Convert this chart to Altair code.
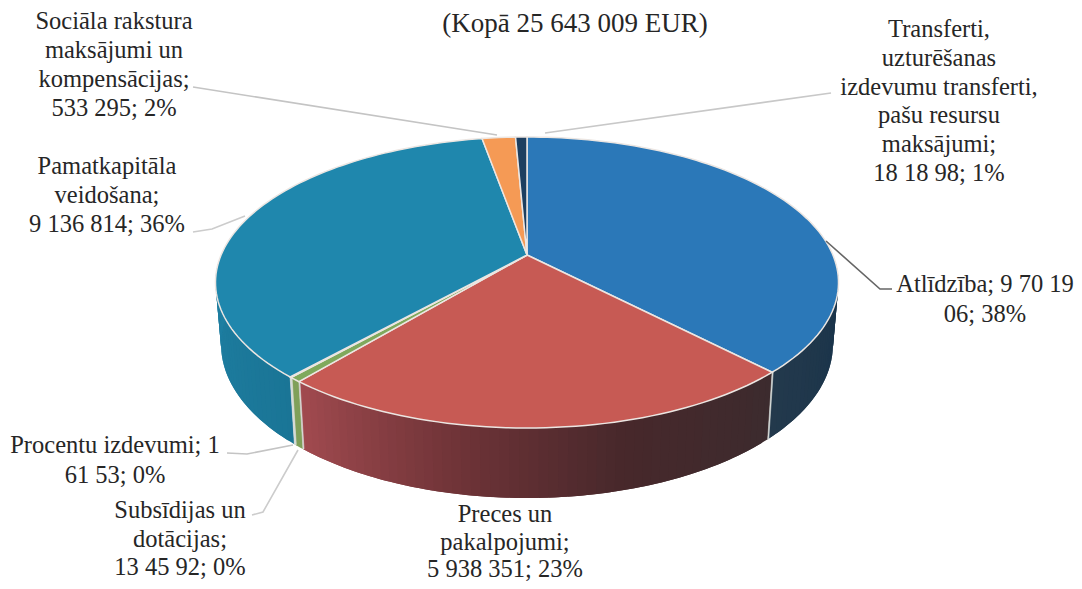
import math
import altair as alt

# ---- chart values
CATEGORIES = ["Atlīdzība", "Preces un pakalpojumi", "Subsīdijas un dotācijas", "Procentu izdevumi",
              "Pamatkapitāla veidošana", "Sociāla rakstura maksājumi un kompensācijas",
              "Transferti, uzturēšanas izdevumu transferti, pašu resursu maksājumi"]
VALUES = [9701906, 5938351, 134592, 16153, 9136814, 533295, 181898]
TOP_COLORS = ["#2b78b8", "#c75a54", "#7fa95c", "#9fc7c0", "#1f87ad", "#f59a55", "#1d3f60"]
SIDE_STOPS = [
    [(90, "#16324a"), (136, "#23394c")],
    [(136, "#3c2b2e"), (165, "#47282b"), (190, "#6e3337"), (220, "#a34b50")],
    [(0, "#7fa05a"), (360, "#7fa05a")],
    [(0, "#a8c8b8"), (360, "#a8c8b8")],
    [(221, "#1a7596"), (270, "#1f80a3")],
    [(0, "#f59a55"), (360, "#f59a55")],
    [(0, "#1d3f60"), (360, "#1d3f60")],
]
TITLE_LINES = ["(Kopā 25 643 009 EUR)"]
LABEL_LINES = [
    ["Sociāla rakstura", "maksājumi  un", "kompensācijas;", "533 295; 2%"],
    ["Pamatkapitāla", "veidošana;", "9 136 814; 36%"],
    ["Transferti,", "uzturēšanas", "izdevumu transferti,", "pašu resursu", "maksājumi;", "18 18 98; 1%"],
    ["Atlīdzība; 9 70 19", "06; 38%"],
    ["Procentu izdevumi; 1", "61 53; 0%"],
    ["Subsīdijas un", "dotācijas;", "13 45 92; 0%"],
    ["Preces un", "pakalpojumi;", "5 938 351; 23%"],
]

# ---- layout (page pixels)
LABEL_ANCHORS = [(114, 29, 29), (107, 174, 29), (939, 37, 28.8), (985, 292, 30), (115, 453, 30), (180, 518, 28.5), (505, 522, 27.5)]
TITLE_ANCHOR = (575, 32)
LEADERS = [
    [(193, 87), (497, 135)],
    [(193, 232), (212, 229), (245, 216)],
    [(831, 93), (545, 133)],
    [(826, 241), (880, 289), (892, 289)],
    [(227, 453), (247, 454), (293, 445)],
    [(252, 515), (263, 512), (298, 450)],
]
LEADER_COLORS = ["#c4c4c4", "#cccccc", "#c8c8c8", "#666666", "#c4c4c4", "#cccccc"]
W, H = 1066, 573
CX, B, A, C, R = 527.0, 255.0, -92.1, 0.189, 305.9


def top(theta):
    t = math.radians(theta)
    d = 1 + C * math.cos(t)
    return CX + R * math.sin(t) / d, (A * math.cos(t) + B) / d


def bottom(theta):
    x, y = top(theta)
    return CX + (x - CX) * 0.982, y + 67 + (y - 373) * 0.055


def lerp_color(stops, th):
    if th <= stops[0][0]:
        return stops[0][1]
    for (a, ca), (b, cb) in zip(stops, stops[1:]):
        if th <= b:
            f = (th - a) / (b - a)
            ch = [round(int(ca[i:i + 2], 16) * (1 - f) + int(cb[i:i + 2], 16) * f) for i in (1, 3, 5)]
            return "#%02x%02x%02x" % tuple(ch)
    return stops[-1][1]


def feature(points, fill, stroke, sw):
    ring = [[round(p[0] - 8, 2), round(p[1] - 8, 2)] for p in points]
    ring.append(ring[0])
    return {"type": "Feature", "geometry": {"type": "Polygon", "coordinates": [ring]},
            "properties": {"fill": fill, "stroke": stroke, "sw": sw}}


total = sum(VALUES)
edges = [0.0]
for v in VALUES:
    edges.append(edges[-1] + v / total * 360)

strips, edges_side, tops = [], [], []
for i, (a, b) in enumerate(zip(edges, edges[1:])):
    lo, hi = max(a, 92), min(b, 268)
    th = lo
    while th < hi:
        nx = min(th + 1.5, hi)
        far = min(nx + 1.5, hi)
        col = lerp_color(SIDE_STOPS[i], (th + nx) / 2)
        pts = [top(th + (far - th) * k / 3) for k in range(4)] + [bottom(far - (far - th) * k / 3) for k in range(4)]
        strips.append(feature(pts, col, col, 0))
        th = nx
    if 92 < b < 268:
        seam = [top(b), (top(b)[0] + 1.0, top(b)[1]), (bottom(b)[0] + 1.0, bottom(b)[1]), bottom(b)]
        edges_side.append(feature(seam, "#d8dcd8", "#d8dcd8", 0.6))
    n = max(3, int((b - a) / 1.5))
    pts = [(CX, B)] + [top(a + (b - a) * k / n) for k in range(n + 1)]
    tops.append(feature(pts, TOP_COLORS[i], "#ece6e2", 1.5))


def geo(features):
    return alt.Chart(alt.Data(values=features)).mark_geoshape().encode(
        fill=alt.Fill("properties.fill:N", scale=None, legend=None),
        stroke=alt.Stroke("properties.stroke:N", scale=None, legend=None),
        strokeWidth=alt.StrokeWidth("properties.sw:Q", scale=None, legend=None),
    ).project(type="identity", scale=1, translate=[0, 0])


xs = alt.Scale(domain=[8, 8 + W], range=[0, W], nice=False, zero=False)
ys = alt.Scale(domain=[8, 8 + H], range=[0, H], nice=False, zero=False)
X = lambda f: alt.X(f, scale=xs, axis=None)
Y = lambda f: alt.Y(f, scale=ys, axis=None)

leader_rows = []
for k, line in enumerate(LEADERS):
    for j, (x, y) in enumerate(line):
        leader_rows.append({"x": x, "y": y, "k": k, "j": j, "c": LEADER_COLORS[k]})
leaders = alt.Chart(alt.Data(values=leader_rows)).mark_line(strokeWidth=1.6).encode(
    x=X("x:Q"), y=Y("y:Q"), detail="k:N", order="j:Q",
    color=alt.Color("c:N", scale=None, legend=None))

text_rows = []
for lines, (x, y, lh) in zip(LABEL_LINES, LABEL_ANCHORS):
    for j, s in enumerate(lines):
        text_rows.append({"x": x, "y": y + j * lh, "t": s})
labels = alt.Chart(alt.Data(values=text_rows)).mark_text(
    font="Liberation Serif", fontSize=24.5, color="#262626", align="center", baseline="alphabetic").encode(
    x=X("x:Q"), y=Y("y:Q"), text="t:N")

title_rows = [{"x": TITLE_ANCHOR[0], "y": TITLE_ANCHOR[1], "t": TITLE_LINES[0]}]
title = alt.Chart(alt.Data(values=title_rows)).mark_text(
    font="Liberation Serif", fontSize=27, color="#262626", align="center", baseline="alphabetic").encode(
    x=X("x:Q"), y=Y("y:Q"), text="t:N")

chart = alt.layer(
    geo(strips), geo(edges_side), geo(tops), leaders, labels, title
).properties(width=W, height=H, padding=0, autosize=alt.AutoSizeParams(type="none"), background="#ffffff"
).configure_view(stroke=None)

chart.save("out.html", embed_options={"renderer": "svg", "actions": False})
